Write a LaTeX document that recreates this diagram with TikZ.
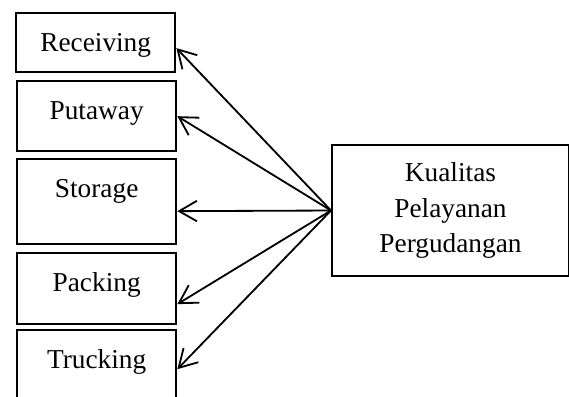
\documentclass[tikz,border=0pt]{standalone}
\usepackage{fontspec}
\setmainfont{Liberation Serif}
\usetikzlibrary{arrows.meta}

\begin{document}
\begin{tikzpicture}[x=0.4394pt, y=-0.4394pt]
  \tikzstyle{stage}=[draw, line width=1pt, anchor=north west, minimum width=69.9pt,
                     inner xsep=0pt, inner ysep=8.8pt, text height=8pt,
                     font=\fontsize{12}{14.4}\selectfont]
  \tikzstyle{quality}=[draw, line width=1pt, anchor=west, minimum width=104pt,
                       minimum height=57.6pt, align=center,
                       font=\fontsize{12}{15.8}\selectfont]
  \tikzstyle{link}=[line width=0.8pt, -{Straight Barb[length=7.8pt,width=9pt]}]
  \useasboundingbox (0,0) rectangle (569,396);
  \clip (0,0) rectangle (569,396);
%  left column
  \node[stage, text depth=0.3pt] (receiving) at (15,12) {Receiving};
  \node[stage, text depth=5.2pt] (putaway) at (16,80) {Putaway};
  \node[stage, text depth=11.7pt] (storage) at (16,158) {Storage};
  \node[stage, text depth=5.6pt] (packing) at (16,252) {Packing};
  \node[stage, text depth=8.7pt] (trucking) at (16,329) {Trucking};
%  right box
  \node[quality] (kualitas) at (331,210.5) {Kualitas\\Pelayanan\\Pergudangan};
  \draw[link] (kualitas.west) -- ([yshift=-2.4pt]receiving.east);
  \draw[link] (kualitas.west) -- (putaway.east);
  \draw[link] (kualitas.west) -- ([yshift=-4.2pt]storage.east);
  \draw[link] (kualitas.west) -- ([yshift=-6.8pt]packing.east);
  \draw[link] (kualitas.west) -- (trucking.east);
\end{tikzpicture}
\end{document}
